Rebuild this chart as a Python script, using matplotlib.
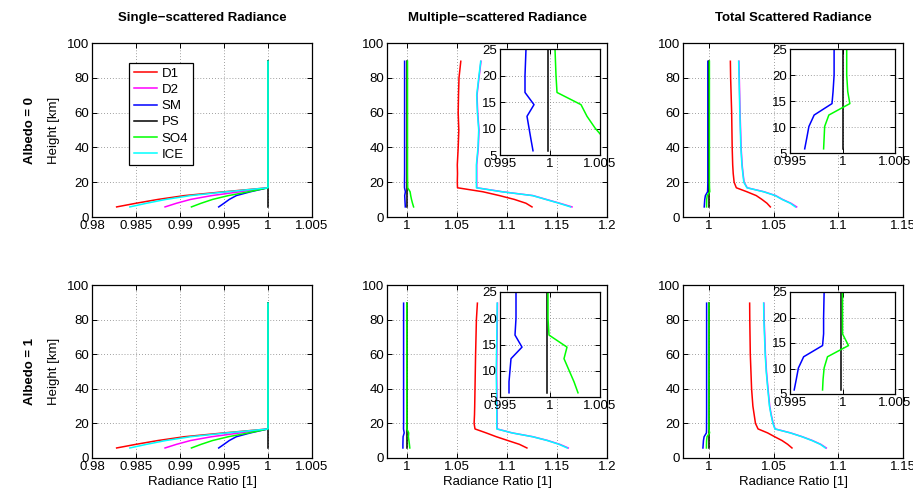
import matplotlib
matplotlib.use("Agg")
import matplotlib.pyplot as plt
from matplotlib import font_manager

# ---------------- data ----------------
HEIGHT = [5.8, 7.9, 10.1, 12.3, 14.5, 16.8, 20, 25, 30, 40, 50, 60, 70, 80, 89.5]
SERIES = ["D1", "D2", "SM", "PS", "SO4", "ICE"]
COLORS = ["#ff0000", "#ff00ff", "#0000ff", "#000000", "#00ff00", "#00ffff"]

# Single-scattered radiance ratio (same for both albedos)
SS_D1 = [0.9828, 0.9850, 0.9875, 0.9905, 0.9950, 1.0, 1.0, 1.0, 1.0, 1.0, 1.0, 1.0, 1.0, 1.0, 1.0]
SS_D2 = [0.9883, 0.9896, 0.9912, 0.9936, 0.9968, 1.0, 1.0, 1.0, 1.0, 1.0, 1.0, 1.0, 1.0, 1.0, 1.0]
SS_SM = [0.9944, 0.9950, 0.9956, 0.9964, 0.9980, 1.0, 1.0, 1.0, 1.0, 1.0, 1.0, 1.0, 1.0, 1.0, 1.0]
SS_PS = [1.0, 1.0, 1.0, 1.0, 1.0, 1.0, 1.0, 1.0, 1.0, 1.0, 1.0, 1.0, 1.0, 1.0, 1.0]
SS_SO4 = [0.9913, 0.9924, 0.9937, 0.9955, 0.9978, 1.0, 1.0, 1.0, 1.0, 1.0, 1.0, 1.0, 1.0, 1.0, 1.0]
SS_ICE = [0.9843, 0.9862, 0.9884, 0.9912, 0.9953, 1.0, 1.0, 1.0, 1.0, 1.0, 1.0, 1.0, 1.0, 1.0, 1.0]

# Multiple-scattered, albedo 0
MS0_D1 = [1.1250, 1.1190, 1.1074, 1.0925, 1.0759, 1.0505, 1.0503, 1.0505, 1.0503, 1.0512, 1.0518, 1.0512, 1.0515, 1.0520, 1.0538]
MS0_D2 = [1.1650, 1.1528, 1.1393, 1.1260, 1.0955, 1.0698, 1.0697, 1.0697, 1.0697, 1.0713, 1.0720, 1.0707, 1.0700, 1.0720, 1.0740]
MS0_SM = [0.9983, 0.9981, 0.9979, 0.9977, 0.9984, 0.9975, 0.9975, 0.9976, 0.9976, 0.9976, 0.9976, 0.9976, 0.9976, 0.9976, 0.9976]
MS0_PS = [0.9998, 0.9998, 0.9998, 0.9998, 0.9998, 0.9998, 0.9998, 0.9998, 0.9998, 0.9998, 0.9998, 0.9998, 0.9998, 0.9998, 0.9998]
MS0_SO4 = [1.0066, 1.0055, 1.0045, 1.0037, 1.0031, 1.0007, 1.0006, 1.0005, 1.0005, 1.0005, 1.0005, 1.0005, 1.0005, 1.0005, 1.0005]
MS0_ICE = [1.1635, 1.1520, 1.1387, 1.1255, 1.0950, 1.0694, 1.0694, 1.0694, 1.0694, 1.0710, 1.0717, 1.0704, 1.0697, 1.0717, 1.0737]

# Total scattered, albedo 0
TS0_D1 = [1.0475, 1.0449, 1.0410, 1.0366, 1.0294, 1.0212, 1.0195, 1.0188, 1.0184, 1.0180, 1.0178, 1.0176, 1.0172, 1.0168, 1.0166]
TS0_D2 = [1.0678, 1.0634, 1.0569, 1.0516, 1.0426, 1.0296, 1.0272, 1.0264, 1.0257, 1.0249, 1.0245, 1.0241, 1.0238, 1.0235, 1.0232]
TS0_SM = [0.9964, 0.9966, 0.9968, 0.9973, 0.9990, 0.9991, 0.9992, 0.9992, 0.9992, 0.9992, 0.9992, 0.9992, 0.9992, 0.9992, 0.9992]
TS0_PS = [1.0000, 1.0000, 1.0000, 1.0000, 1.0000, 1.0000, 1.0000, 1.0000, 1.0000, 1.0000, 1.0000, 1.0000, 1.0000, 1.0000, 1.0000]
TS0_SO4 = [0.9982, 0.99825, 0.9983, 0.9987, 1.0007, 1.0005, 1.0004, 1.0004, 1.0004, 1.0004, 1.0004, 1.0004, 1.0004, 1.0004, 1.0004]
TS0_ICE = [1.0668, 1.0629, 1.0565, 1.0513, 1.0423, 1.0294, 1.0270, 1.0262, 1.0255, 1.0247, 1.0243, 1.0239, 1.0236, 1.0233, 1.0230]

# Multiple-scattered, albedo 1
MS1_D1 = [1.1199, 1.1124, 1.1008, 1.0893, 1.0792, 1.0680, 1.0671, 1.0675, 1.0677, 1.0680, 1.0683, 1.0686, 1.0690, 1.0694, 1.0704]
MS1_D2 = [1.1612, 1.1528, 1.1408, 1.1259, 1.1053, 1.0901, 1.0901, 1.0901, 1.0901, 1.0898, 1.0896, 1.0898, 1.0901, 1.0903, 1.0905]
MS1_SM = [0.9959, 0.9959, 0.9960, 0.9961, 0.9972, 0.9965, 0.9966, 0.9966, 0.9966, 0.9966, 0.9966, 0.9966, 0.9966, 0.9966, 0.9966]
MS1_PS = [0.9997, 0.9997, 0.9997, 0.9997, 0.9997, 0.9997, 0.9997, 0.9997, 0.9997, 0.9997, 0.9997, 0.9997, 0.9997, 0.9997, 0.9997]
MS1_SO4 = [1.0028, 1.0024, 1.0019, 1.0014, 1.0017, 0.9999, 0.9998, 0.9998, 0.9998, 0.9998, 0.9998, 0.9998, 0.9998, 0.9998, 0.9998]
MS1_ICE = [1.1602, 1.1520, 1.1403, 1.1255, 1.1050, 1.0898, 1.0898, 1.0898, 1.0898, 1.0895, 1.0893, 1.0895, 1.0898, 1.0900, 1.0902]

# Total scattered, albedo 1
TS1_D1 = [1.0642, 1.0609, 1.0565, 1.0508, 1.0454, 1.0380, 1.0360, 1.0350, 1.0340, 1.0330, 1.0325, 1.0320, 1.0318, 1.0316, 1.0315]
TS1_D2 = [1.0907, 1.0865, 1.0800, 1.0722, 1.0632, 1.0512, 1.0497, 1.0482, 1.0470, 1.0457, 1.0445, 1.0437, 1.0432, 1.0427, 1.0425]
TS1_SM = [0.9954, 0.9956, 0.9958, 0.9963, 0.9981, 0.9982, 0.9982, 0.99825, 0.99825, 0.99825, 0.99825, 0.99825, 0.99825, 0.99825, 0.99825]
TS1_PS = [0.9999, 0.9999, 0.9999, 0.9999, 0.9999, 0.9999, 0.9999, 0.9999, 0.9999, 0.9999, 0.9999, 0.9999, 0.9999, 0.9999, 0.9999]
TS1_SO4 = [0.9981, 0.99815, 0.99825, 0.99857, 1.00057, 1.0, 1.0, 1.0, 1.0, 1.0, 1.0, 1.0, 1.0, 1.0, 1.0]
TS1_ICE = [1.0900, 1.0861, 1.0796, 1.0719, 1.0629, 1.0510, 1.0495, 1.0480, 1.0468, 1.0455, 1.0443, 1.0435, 1.0430, 1.0425, 1.0423]

COL_TITLES = ["Single\u2212scattered Radiance", "Multiple\u2212scattered Radiance", "Total Scattered Radiance"]
ROW_LABELS = ["Albedo = 0", "Albedo = 1"]

XT_SS = [0.98, 0.985, 0.99, 0.995, 1.0, 1.005]
XL_SS = ["0.98", "0.985", "0.99", "0.995", "1", "1.005"]
XT_MS = [1.0, 1.05, 1.1, 1.15, 1.2]
XL_MS = ["1", "1.05", "1.1", "1.15", "1.2"]
XT_TS = [1.0, 1.05, 1.1, 1.15]
XL_TS = ["1", "1.05", "1.1", "1.15"]
YT_MAIN = [0, 20, 40, 60, 80, 100]
XT_IN = [0.995, 1.0, 1.005]
XL_IN = ["0.995", "1", "1.005"]
YT_IN = [5, 10, 15, 20, 25]

# ---------------- styling ----------------
names = {f.name for f in font_manager.fontManager.ttflist}
BASE = "Liberation Sans" if "Liberation Sans" in names else "DejaVu Sans"
NARROW = "Liberation Sans Narrow" if "Liberation Sans Narrow" in names else BASE
plt.rcParams["font.family"] = [BASE, "DejaVu Sans"]
plt.rcParams["axes.unicode_minus"] = True

W, Hpx = 913, 488
fig = plt.figure(figsize=(W / 100, Hpx / 100), dpi=100)


def rect(x0, y0, x1, y1):
    return [x0 / W, 1 - y1 / Hpx, (x1 - x0) / W, (y1 - y0) / Hpx]


def style(ax, fs=9.5):
    ax.grid(True, linestyle=(0, (1, 2.5)), color="0.5", linewidth=0.6)
    ax.tick_params(direction="in", top=True, right=True, length=3.5, width=0.7,
                   labelsize=fs, pad=2)
    for s in ax.spines.values():
        s.set_linewidth(0.9)
        s.set_color("black")


def draw(ax, data):
    for name, col, vals in zip(SERIES, COLORS, data):
        ax.plot(vals, HEIGHT, color=col, lw=1.1, label=name, solid_joinstyle="round")


panels = [
    [[SS_D1, SS_D2, SS_SM, SS_PS, SS_SO4, SS_ICE],
     [MS0_D1, MS0_D2, MS0_SM, MS0_PS, MS0_SO4, MS0_ICE],
     [TS0_D1, TS0_D2, TS0_SM, TS0_PS, TS0_SO4, TS0_ICE]],
    [[SS_D1, SS_D2, SS_SM, SS_PS, SS_SO4, SS_ICE],
     [MS1_D1, MS1_D2, MS1_SM, MS1_PS, MS1_SO4, MS1_ICE],
     [TS1_D1, TS1_D2, TS1_SM, TS1_PS, TS1_SO4, TS1_ICE]],
]

col_x = [92, 387, 683]
row_y = [(43, 217), (285, 458)]
xlims = [(0.98, 1.005), (0.98, 1.2), (0.98, 1.15)]
xticks = [(XT_SS, XL_SS), (XT_MS, XL_MS), (XT_TS, XL_TS)]
insets = {
    (0, 1): (500, 49, 600, 155),
    (0, 2): (790, 49, 895, 153),
    (1, 1): (500, 292, 600, 397),
    (1, 2): (790, 292, 895, 394),
}

for r in range(2):
    for c in range(3):
        y0, y1 = row_y[r]
        ax = fig.add_axes(rect(col_x[c], y0, col_x[c] + 220, y1))
        draw(ax, panels[r][c])
        ax.set_xlim(*xlims[c])
        ax.set_ylim(0, 100)
        ax.set_xticks(xticks[c][0])
        ax.set_xticklabels(xticks[c][1])
        ax.set_yticks(YT_MAIN)
        ax.set_yticklabels([str(v) for v in YT_MAIN])
        style(ax)
        if c == 0:
            ax.set_ylabel("Height [km]", fontsize=9.5, labelpad=5)
            if r == 0:
                leg = ax.legend(loc="upper left", bbox_to_anchor=(0.17, 0.885),
                                fontsize=9.5, frameon=True, fancybox=False,
                                edgecolor="black", framealpha=1, handlelength=1.75,
                                handletextpad=0.35, labelspacing=0.3, borderpad=0.35,
                                borderaxespad=0)
                leg.get_frame().set_linewidth(0.9)
        if r == 1:
            ax.set_xlabel("Radiance Ratio [1]", fontsize=9.5, labelpad=2)
        if r == 0:
            ax.text(0.5, 1 + 25 / 174, COL_TITLES[c], transform=ax.transAxes,
                    ha="center", va="center", fontsize=9.5, fontweight="bold",
                    family=[NARROW, BASE, "DejaVu Sans"])
        if (r, c) in insets:
            x0, iy0, x1, iy1 = insets[(r, c)]
            ia = fig.add_axes(rect(x0, iy0, x1, iy1))
            ia.set_zorder(5)
            ia.set_facecolor("white")
            draw(ia, panels[r][c])
            ia.set_xlim(0.995, 1.005)
            ia.set_ylim(5, 25)
            ia.set_xticks(XT_IN)
            ia.set_xticklabels(XL_IN)
            ia.set_yticks(YT_IN)
            ia.set_yticklabels([str(v) for v in YT_IN])
            style(ia)

for r, lab in enumerate(ROW_LABELS):
    yc = (row_y[r][0] + row_y[r][1]) / 2
    fig.text(30 / W, 1 - yc / Hpx, lab, rotation=90, ha="center", va="center",
             fontsize=9.5, fontweight="bold")

fig.savefig("out.png", dpi=100)
